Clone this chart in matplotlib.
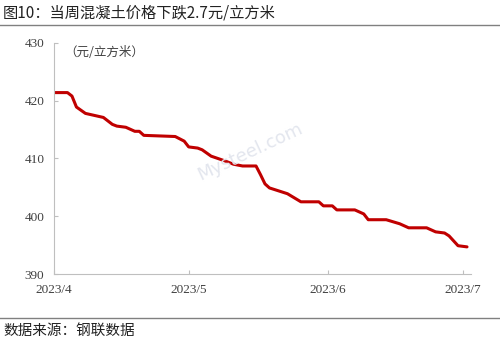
import matplotlib
matplotlib.use("Agg")
import matplotlib.pyplot as plt
import numpy as np
import pandas as pd

# ---------- data ----------
dates = ["2023-04-01", "2023-04-04", "2023-04-05", "2023-04-06", "2023-04-08",
         "2023-04-12", "2023-04-14", "2023-04-15", "2023-04-17", "2023-04-19",
         "2023-04-20", "2023-04-21", "2023-04-28", "2023-04-30", "2023-05-01",
         "2023-05-03", "2023-05-04", "2023-05-06", "2023-05-09", "2023-05-11",
         "2023-05-13", "2023-05-16", "2023-05-17", "2023-05-18", "2023-05-19",
         "2023-05-21", "2023-05-23", "2023-05-26", "2023-05-30", "2023-05-31",
         "2023-06-02", "2023-06-03", "2023-06-07", "2023-06-09", "2023-06-10",
         "2023-06-14", "2023-06-17", "2023-06-19", "2023-06-23", "2023-06-25",
         "2023-06-27", "2023-06-28", "2023-06-30", "2023-07-02"]
price = [421.4, 421.4, 420.8, 418.9, 417.8,
         417.1, 415.9, 415.6, 415.4, 414.7,
         414.7, 414.0, 413.8, 413.0, 412.0,
         411.8, 411.5, 410.4, 409.6, 409.0,
         408.7, 408.7, 407.2, 405.6, 404.9,
         404.4, 403.9, 402.5, 402.5, 401.8,
         401.8, 401.1, 401.1, 400.4, 399.4,
         399.4, 398.7, 398.0, 398.0, 397.3,
         397.1, 396.6, 394.9, 394.7]
yticks = [390, 400, 410, 420, 430]
xticks = ["2023-04-01", "2023-05-01", "2023-06-01", "2023-07-01"]
xtick_labels = ["2023/4", "2023/5", "2023/6", "2023/7"]

title = "图10：当周混凝土价格下跌2.7元/立方米"
unit = "（元/立方米）"
source = "数据来源：钢联数据"

cjk = ["Noto Sans CJK SC", "DejaVu Sans"]
serif = ["Liberation Serif", "DejaVu Serif"]

fig = plt.figure(figsize=(5.0, 3.46), dpi=100)
ax = fig.add_axes([0.108, 0.208, 0.835, 0.668])

x = pd.to_datetime(dates)
ax.plot(x, price, color="#C00000", linewidth=2.2, solid_joinstyle="round",
        solid_capstyle="round")

ax.set_ylim(390, 430)
ax.set_yticks(yticks)
ax.set_xlim(pd.Timestamp("2023-04-01"), pd.Timestamp("2023-07-03"))
ax.set_xticks(pd.to_datetime(xticks))
ax.set_xticklabels(xtick_labels)

for s in ["top", "right"]:
    ax.spines[s].set_visible(False)
for s in ["left", "bottom"]:
    ax.spines[s].set_color("#BFBFBF")
    ax.spines[s].set_linewidth(0.8)

ax.tick_params(axis="both", direction="in", length=3, color="#BFBFBF",
               labelsize=9.5, labelcolor="#404040")
ax.tick_params(axis="y", pad=7)
ax.tick_params(axis="x", pad=7)
for lab in ax.get_xticklabels() + ax.get_yticklabels():
    lab.set_fontfamily(serif)

ax.text(0.025, 0.985, unit, transform=ax.transAxes, ha="left", va="top",
        fontsize=9, color="#404040", family=cjk)

# faint watermark
fig.text(0.50, 0.56, "Mysteel.com", fontsize=13, color="#E3E6EE", rotation=25,
         ha="center", va="center", family=["DejaVu Sans"], zorder=0)

# header / footer
fig.text(0.006, 0.962, title, ha="left", va="center", fontsize=11,
         color="#222222", family=cjk)
fig.add_artist(plt.Line2D([0, 1], [0.928, 0.928], color="#808080", linewidth=1.0))
fig.add_artist(plt.Line2D([0, 1], [0.080, 0.080], color="#808080", linewidth=1.0))
fig.text(0.006, 0.045, source, ha="left", va="center", fontsize=10.5,
         color="#222222", family=cjk)

fig.savefig("out.png", dpi=100)
